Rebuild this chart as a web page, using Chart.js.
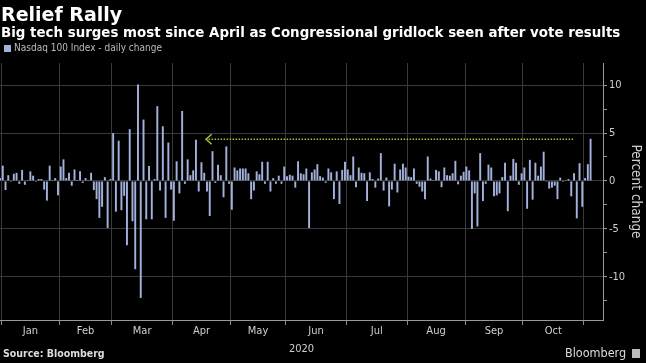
<!DOCTYPE html>
<html>
<head>
<meta charset="utf-8">
<script src="https://cdn.jsdelivr.net/npm/chart.js@4.4.0/dist/chart.umd.min.js"></script>
<style>
  html, body { margin: 0; padding: 0; background: #000; }
  #wrap { position: relative; width: 646px; height: 363px; overflow: hidden; font-family: 'DejaVu Sans', sans-serif; color: #fff; }
  #box { position: absolute; left: 0; top: 0; width: 646px; height: 363px; }
  .title { position: absolute; left: 1px; top: 3px; font-weight: bold; font-size: 19px; line-height: 22px; white-space: nowrap; }
  .subtitle { position: absolute; left: 1px; top: 25px; font-weight: bold; font-size: 13.4px; line-height: 16px; white-space: nowrap; }
  .legend { position: absolute; left: 4px; top: 42px; font-family: 'DejaVu Sans Condensed', 'DejaVu Sans', sans-serif; font-size: 10px; line-height: 12px; color: #bbb; white-space: nowrap; }
  .legend i { display: inline-block; width: 7px; height: 7px; margin-right: 3px; vertical-align: -0.5px; }
  .source { position: absolute; left: 3px; top: 347px; font-family: 'DejaVu Sans Condensed', 'DejaVu Sans', sans-serif; font-weight: bold; font-size: 10.5px; color: #ddd; }
  .brand { position: absolute; left: 565px; top: 345px; font-family: 'DejaVu Sans Condensed', 'DejaVu Sans', sans-serif; font-size: 12.5px; color: #ddd; }
  .brand i { position: absolute; left: 67px; top: 4px; width: 8px; height: 9px; background: #bbb; }
</style>
</head>
<body>
<div id="wrap">
  <div id="box"><canvas id="myChart"></canvas></div>
  <div class="title">Relief Rally</div>
  <div class="subtitle">Big tech surges most since April as Congressional gridlock seen after vote results</div>
  <div class="legend"><i id="swatch"></i>Nasdaq 100 Index - daily change</div>
  <div class="source">Source: Bloomberg</div>
  <div class="brand">Bloomberg<i></i></div>
</div>
<script>
// DATOS: variacion diaria del Nasdaq 100 (%), un array por mes (dias habiles)
const monthNames = ["Jan", "Feb", "Mar", "Apr", "May", "Jun", "Jul", "Aug", "Sep", "Oct"];
const monthDays = [21, 19, 22, 21, 20, 22, 22, 21, 21, 22];

const dec31 = [0.3];
const jan = [1.6, -0.95, 0.6, -0.1, 0.75, 0.85, -0.3, 1.15, -0.4, 0.1, 1.0, 0.55, -0.1, 0.2, 0.2, -0.9, -2.05, 1.6, 0.1, 0.3, -1.5];
const feb = [1.5, 2.25, 0.3, 0.85, -0.5, 1.2, 0.1, 1.0, -0.2, 0.3, 0.1, 0.85, -0.95, -1.9, -3.85, -2.7, 0.4, -4.9, 0.2];
const mar = [5.0, -3.2, 4.2, -3.05, -1.55, -6.7, 5.4, -4.2, -9.2, 10.05, -12.2, 6.4, -4.0, 1.55, -4.0, 0.2, 7.8, -1.0, 5.7, -3.85, 4.0, -0.9];
const apr = [-4.15, 2.05, -1.3, 7.3, -0.3, 2.25, 0.6, 1.1, 4.3, -1.1, 1.95, 0.85, -1.1, -3.65, 3.1, -0.2, 1.7, 0.6, -1.7, 3.6, -0.3];
const may = [-3.0, 1.4, 1.1, 1.3, 1.3, 1.3, 0.8, -1.9, -1.0, 1.0, 0.7, 2.0, -0.3, 2.0, -1.1, 0.3, -0.3, 0.55, -0.3, 1.5];
const jun = [0.5, 0.65, 0.55, -0.7, 2.05, 0.8, 0.7, 1.3, -4.9, 0.9, 1.2, 1.75, 0.5, 0.35, -0.2, 1.3, 0.9, -1.9, 1.0, -2.4, 1.15, 2.0];
const jul = [1.2, 0.6, 2.55, -0.65, 1.4, 0.85, 0.8, -2.1, 0.9, 0.2, -0.7, 0.25, 2.9, -1.0, 0.35, -2.65, -0.9, 1.8, -1.2, 1.2, 1.8, 1.4];
const aug = [0.45, 0.4, 1.3, -0.3, -0.6, -1.1, -1.9, 2.55, 0.25, 0.1, 1.15, 1.0, -0.65, 1.4, 0.6, 0.55, 0.8, 2.1, -0.35, 0.55, 0.95];
const sep = [1.5, 1.1, -5.0, -1.3, -4.75, 2.9, -2.1, -0.3, 1.7, 1.4, -1.6, -1.5, -1.3, 0.4, 1.9, -3.15, 0.55, 2.3, 1.9, -0.4, 0.8];
const oct = [1.4, -2.9, 2.2, -1.95, 1.9, 0.55, 1.5, 3.05, -0.1, -0.8, -0.7, -0.5, -1.9, 0.35, -0.1, 0.1, 0.2, -1.6, 0.8, -3.9, 1.85, -2.7];
const nov = [0.3, 1.75, 4.4];

// flecha "most since April"
const arrowLevel = 4.35;
const arrowFrom = 74.5;
const arrowTo = 208;

const yTicks = [-12.5, -10, -7.5, -5, -2.5, 0, 2.5, 5, 7.5, 10];

const barColor = "#a3b2dc";
const arrowColor = "#9cc43a";
const gridColor = "#3a3a3a";
const textColor = "#cfcfcf";
const smallFont = "'DejaVu Sans Condensed', 'DejaVu Sans', sans-serif";

document.getElementById("swatch").style.background = barColor;

const values = [].concat(dec31, jan, feb, mar, apr, may, jun, jul, aug, sep, oct, nov);
const barData = values.map((v, i) => ({ x: i, y: v }));

// limites de mes en indice de dia habil
const bounds = [0.5];
monthDays.forEach(n => bounds.push(bounds[bounds.length - 1] + n));
const mids = monthNames.map((m, k) => (bounds[k] + bounds[k + 1]) / 2);

const arrowHead = {
    id: "arrowHead",
    afterDatasetsDraw(chart) {
        const p = chart.getDatasetMeta(1).data[0];
        const ctx = chart.ctx;
        ctx.save();
        ctx.strokeStyle = arrowColor;
        ctx.lineWidth = 1.5;
        ctx.beginPath();
        ctx.moveTo(p.x + 6, p.y - 5);
        ctx.lineTo(p.x + 0.5, p.y);
        ctx.lineTo(p.x + 6, p.y + 5);
        ctx.stroke();
        ctx.restore();
    }
};

const config = {
    data: {
        datasets: [
            {
                type: "bar",
                label: "Nasdaq 100 Index - daily change",
                data: barData,
                backgroundColor: barColor,
                barPercentage: 0.7,
                categoryPercentage: 1
            },
            {
                type: "line",
                data: [{ x: arrowFrom, y: arrowLevel }, { x: arrowTo, y: arrowLevel }],
                borderColor: arrowColor,
                borderWidth: 1.5,
                borderDash: [1.5, 1.5],
                pointRadius: 0
            }
        ]
    },
    options: {
        responsive: true,
        maintainAspectRatio: false,
        animation: false,
        events: [],
        layout: { padding: { top: 63, left: 0, right: 0, bottom: 0 } },
        plugins: { legend: { display: false }, tooltip: { enabled: false } },
        scales: {
            x: {
                type: "linear",
                position: "bottom",
                offset: false,
                min: 0,
                max: 218.5,
                afterBuildTicks: s => { s.ticks = bounds.map(v => ({ value: v })); },
                ticks: { display: false },
                grid: { color: gridColor, tickColor: "#8a8a8a", tickLength: 5, offset: false },
                border: { color: "#9a9a9a" },
                afterFit: s => { s.height = 5; }
            },
            xMonths: {
                type: "linear",
                position: "bottom",
                offset: false,
                min: 0,
                max: 218.5,
                afterBuildTicks: s => { s.ticks = mids.map(v => ({ value: v })); },
                ticks: {
                    autoSkip: false,
                    maxRotation: 0,
                    padding: 0,
                    color: textColor,
                    font: { family: smallFont, size: 11 },
                    callback: (v, k) => monthNames[k]
                },
                grid: { display: false, drawTicks: false },
                border: { display: false },
                title: {
                    display: true,
                    text: "2020",
                    color: textColor,
                    font: { family: smallFont, size: 11 },
                    padding: { top: 0, bottom: 7 }
                },
                afterFit: s => { s.height = 38; }
            },
            y: {
                position: "right",
                min: -14.5,
                max: 12.3,
                afterBuildTicks: s => { s.ticks = yTicks.map(v => ({ value: v })); },
                ticks: {
                    padding: 2,
                    crossAlign: "near",
                    color: textColor,
                    font: { family: smallFont, size: 11 },
                    callback: v => (v % 5 === 0 ? String(v) : "")
                },
                grid: {
                    color: ctx => (ctx.tick && ctx.tick.value % 5 === 0 ? gridColor : "rgba(0,0,0,0)"),
                    tickColor: "#9a9a9a",
                    tickLength: 4
                },
                border: { color: "#9a9a9a" },
                title: {
                    display: true,
                    text: "Percent change",
                    color: textColor,
                    font: { family: smallFont, size: 13.5 },
                    padding: { top: 2, bottom: 0 }
                },
                afterFit: s => { s.width = 43; }
            }
        }
    },
    plugins: [arrowHead]
};

window.grafica = new Chart(document.getElementById("myChart"), config);
</script>
</body>
</html>
